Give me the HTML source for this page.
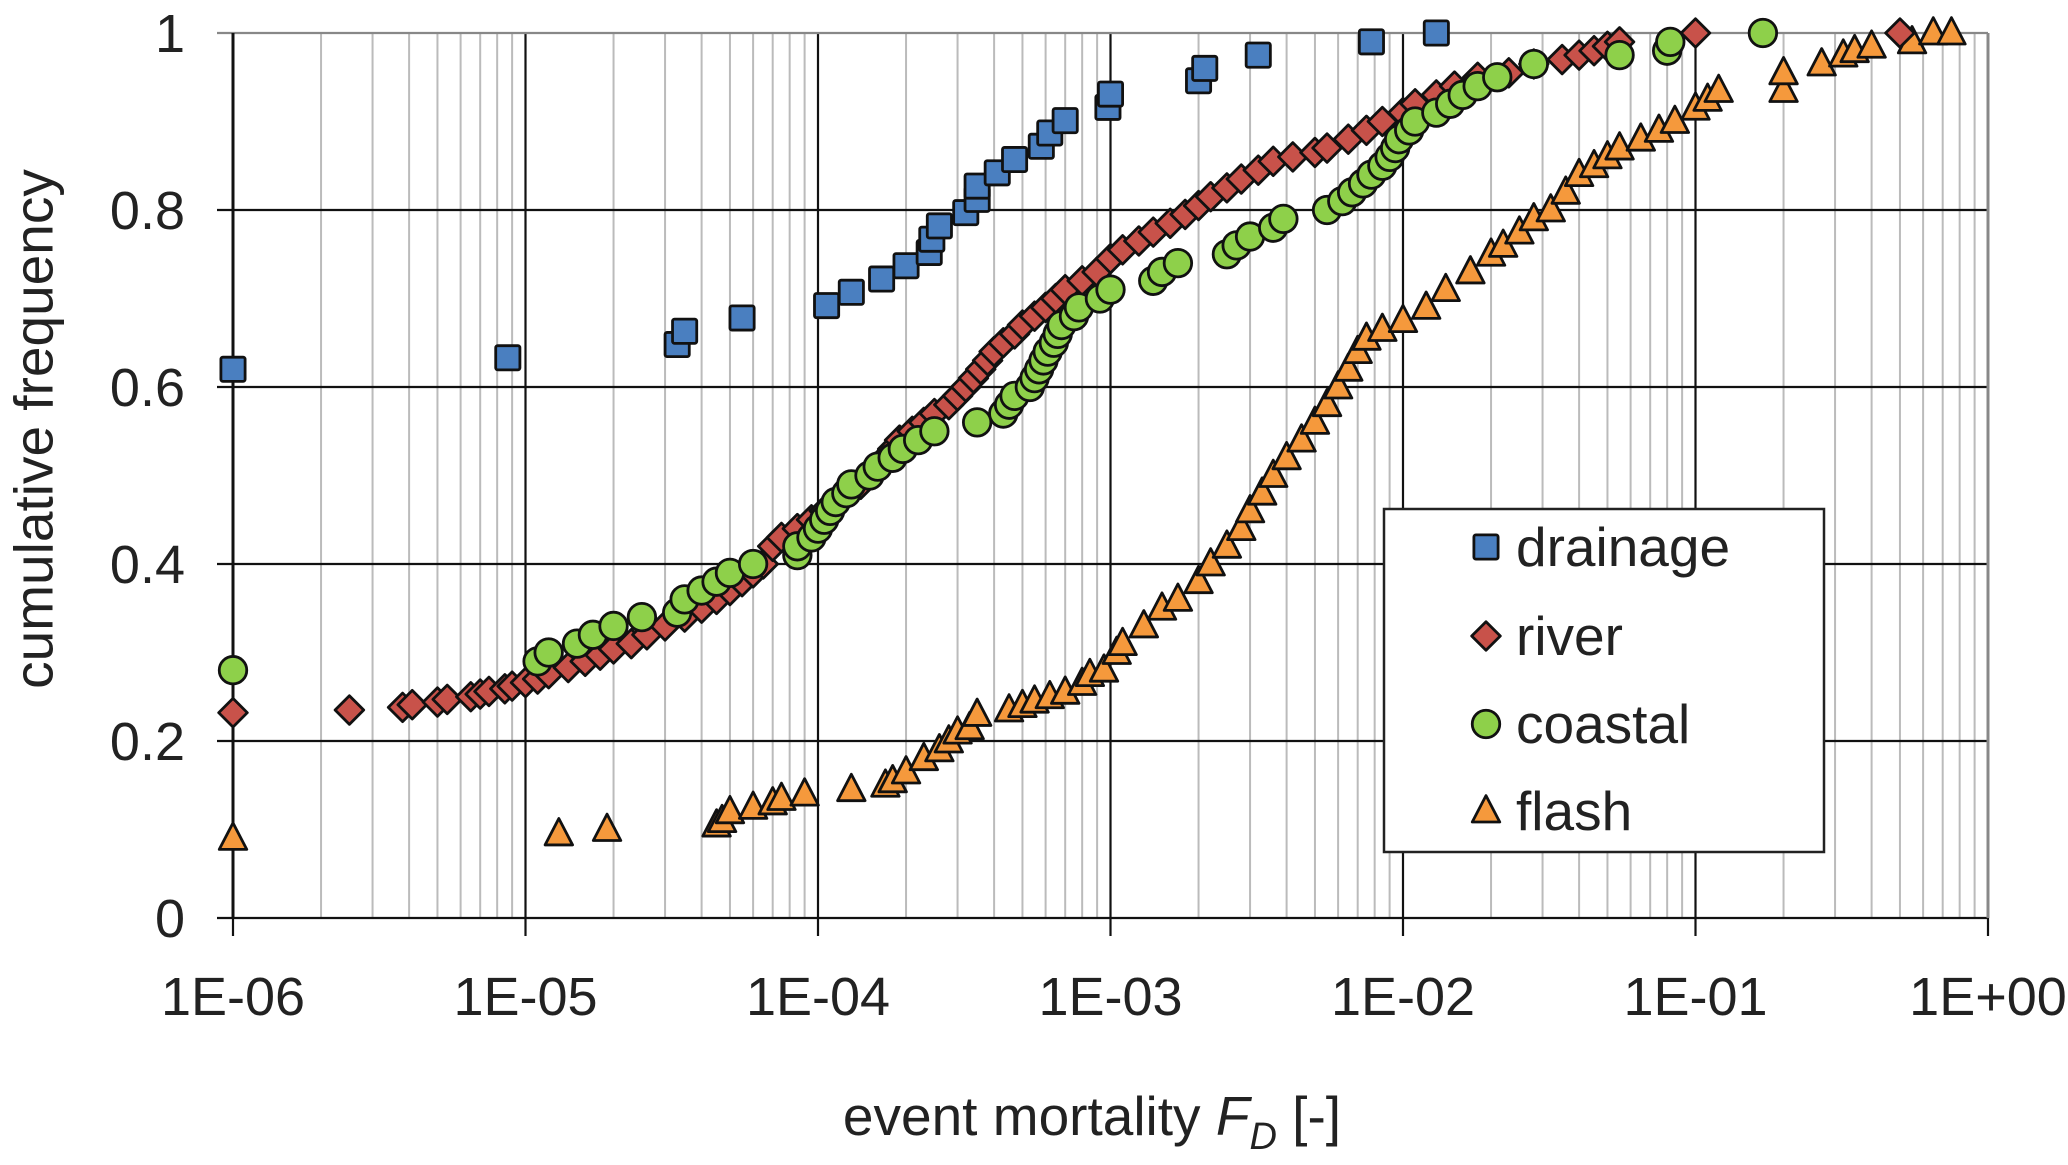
<!DOCTYPE html>
<html><head><meta charset="utf-8"><style>
body{margin:0;background:#fff;}
svg{display:block;font-family:"Liberation Sans",Arial,sans-serif;}
</style></head><body>
<svg id="chart" width="2068" height="1165" viewBox="0 0 2068 1165">
<g id="grid"></g>
<g id="axes"></g>
<g id="marks"></g>
<text x="38" y="429" transform="rotate(-90 38 429)" text-anchor="middle" dominant-baseline="middle" font-size="55" fill="#222">cumulative frequency</text>
<text x="1092" y="1135" text-anchor="middle" font-size="55" fill="#222">event mortality <tspan font-style="italic">F</tspan><tspan font-style="italic" font-size="38" dy="14">D</tspan><tspan dy="-14"> [-]</tspan></text>
<g>
<rect x="1384" y="509" width="440" height="343" fill="#fff" stroke="#222" stroke-width="2.5"/>
<g id="legend-items"></g>
</g>
</svg>
<script>
const xTickLabels=["1E-06","1E-05","1E-04","1E-03","1E-02","1E-01","1E+00"];
const yTickLabels=["0","0.2","0.4","0.6","0.8","1"];
const yTicks=[0,0.2,0.4,0.6,0.8,1];
const seriesNames=["drainage","river","coastal","flash"];
const drainageX=[1e-6,8.7e-6,3.3e-5,3.5e-5,5.5e-5,1.07e-4,1.3e-4,1.65e-4,2.0e-4,2.4e-4,2.45e-4,2.6e-4,3.2e-4,3.5e-4,3.5e-4,4.1e-4,4.7e-4,5.8e-4,6.2e-4,7e-4,9.8e-4,1.0e-3,2.0e-3,2.1e-3,3.2e-3,7.8e-3,1.3e-2];
const drainageY=[0.62,0.633,0.648,0.663,0.678,0.692,0.707,0.722,0.737,0.752,0.767,0.782,0.797,0.812,0.827,0.842,0.857,0.872,0.887,0.901,0.916,0.931,0.946,0.96,0.975,0.99,1.0];
const riverX=[1e-6,2.5e-6,3.8e-6,4.1e-6,5e-6,5.4e-6,6.5e-6,7e-6,7.5e-6,8.5e-6,9e-6,1e-5,1.1e-5,1.2e-5,1.4e-5,1.6e-5,1.8e-5,2e-5,2.3e-5,2.6e-5,3e-5,3.5e-5,4e-5,4.5e-5,5e-5,5.5e-5,6e-5,6.5e-5,7e-5,7.5e-5,8.5e-5,9.5e-5,1.05e-4,1.15e-4,1.25e-4,1.4e-4,1.5e-4,1.6e-4,1.7e-4,1.8e-4,1.9e-4,2.1e-4,2.3e-4,2.5e-4,2.8e-4,3e-4,3.2e-4,3.4e-4,3.6e-4,3.8e-4,4e-4,4.3e-4,4.7e-4,5e-4,5.5e-4,6e-4,6.5e-4,7e-4,8e-4,9e-4,1e-3,1.1e-3,1.25e-3,1.4e-3,1.6e-3,1.8e-3,2e-3,2.2e-3,2.5e-3,2.8e-3,3.2e-3,3.6e-3,4.2e-3,5e-3,5.5e-3,6.5e-3,7.5e-3,8.5e-3,1e-2,1.1e-2,1.3e-2,1.5e-2,1.8e-2,2.3e-2,2.8e-2,3.5e-2,4e-2,4.5e-2,5e-2,5.5e-2,1e-1,5e-1];
const riverY=[0.232,0.235,0.238,0.241,0.244,0.247,0.25,0.253,0.256,0.259,0.262,0.266,0.27,0.276,0.283,0.29,0.297,0.304,0.31,0.32,0.33,0.34,0.35,0.36,0.37,0.38,0.39,0.40,0.42,0.43,0.44,0.45,0.46,0.47,0.48,0.49,0.50,0.51,0.52,0.53,0.54,0.55,0.56,0.57,0.58,0.59,0.60,0.61,0.62,0.63,0.64,0.65,0.66,0.67,0.68,0.69,0.70,0.71,0.72,0.73,0.745,0.755,0.765,0.775,0.785,0.795,0.805,0.815,0.825,0.835,0.845,0.855,0.86,0.865,0.87,0.88,0.89,0.90,0.91,0.92,0.93,0.94,0.95,0.955,0.965,0.97,0.975,0.98,0.985,0.99,1.0,1.0];
const coastalX=[1e-6,1.1e-5,1.2e-5,1.5e-5,1.7e-5,2e-5,2.5e-5,3.3e-5,3.5e-5,4e-5,4.5e-5,5e-5,6e-5,8.5e-5,8.5e-5,9.5e-5,1e-4,1.05e-4,1.1e-4,1.15e-4,1.25e-4,1.3e-4,1.5e-4,1.6e-4,1.8e-4,1.95e-4,2.2e-4,2.5e-4,3.5e-4,4.3e-4,4.5e-4,4.7e-4,5.3e-4,5.5e-4,5.7e-4,5.9e-4,6.1e-4,6.4e-4,6.6e-4,6.8e-4,7.5e-4,7.8e-4,9.2e-4,1e-3,1.4e-3,1.5e-3,1.7e-3,2.5e-3,2.7e-3,3e-3,3.6e-3,3.9e-3,5.5e-3,6.2e-3,6.7e-3,7.3e-3,7.8e-3,8.5e-3,9e-3,9.4e-3,9.7e-3,1.05e-2,1.1e-2,1.3e-2,1.45e-2,1.6e-2,1.8e-2,2.1e-2,2.8e-2,5.5e-2,8e-2,8.2e-2,1.7e-1];
const coastalY=[0.28,0.29,0.30,0.31,0.32,0.33,0.34,0.345,0.36,0.37,0.38,0.39,0.40,0.41,0.42,0.43,0.44,0.45,0.46,0.47,0.48,0.49,0.50,0.51,0.52,0.53,0.54,0.55,0.56,0.57,0.58,0.59,0.60,0.61,0.62,0.63,0.64,0.65,0.66,0.67,0.68,0.69,0.70,0.71,0.72,0.73,0.74,0.75,0.76,0.77,0.78,0.79,0.80,0.81,0.82,0.83,0.84,0.85,0.86,0.87,0.88,0.89,0.90,0.91,0.92,0.93,0.94,0.95,0.965,0.975,0.98,0.99,1.0];
const flashX=[1e-6,1.3e-5,1.9e-5,4.5e-5,4.7e-5,5e-5,6e-5,7e-5,7.5e-5,9e-5,1.3e-4,1.7e-4,1.8e-4,2e-4,2.3e-4,2.6e-4,2.8e-4,3e-4,3.3e-4,3.5e-4,4.5e-4,5e-4,5.5e-4,6.2e-4,7e-4,8e-4,8.5e-4,9.5e-4,1.05e-3,1.1e-3,1.3e-3,1.5e-3,1.7e-3,2e-3,2.2e-3,2.5e-3,2.8e-3,3e-3,3.3e-3,3.6e-3,4e-3,4.5e-3,5e-3,5.5e-3,6e-3,6.5e-3,7e-3,7.5e-3,8.5e-3,1e-2,1.2e-2,1.4e-2,1.7e-2,2e-2,2.2e-2,2.5e-2,2.8e-2,3.2e-2,3.6e-2,4e-2,4.5e-2,5e-2,5.5e-2,6.5e-2,7.5e-2,8.5e-2,1e-1,1.1e-1,1.2e-1,2e-1,2e-1,2.7e-1,3.2e-1,3.5e-1,4e-1,5.5e-1,6.5e-1,7.5e-1];
const flashY=[0.09,0.095,0.10,0.105,0.11,0.12,0.125,0.13,0.135,0.14,0.145,0.15,0.155,0.165,0.18,0.19,0.2,0.21,0.215,0.23,0.235,0.24,0.245,0.25,0.255,0.265,0.275,0.28,0.30,0.31,0.33,0.35,0.36,0.38,0.40,0.42,0.44,0.46,0.48,0.50,0.52,0.54,0.56,0.58,0.60,0.62,0.64,0.655,0.665,0.675,0.69,0.71,0.73,0.75,0.76,0.775,0.79,0.80,0.82,0.84,0.85,0.86,0.87,0.88,0.89,0.90,0.915,0.925,0.935,0.935,0.955,0.965,0.975,0.98,0.985,0.99,1.0,1.0];

const NS="http://www.w3.org/2000/svg";
const X0=233,X1=1988,Y0=918,Y1=33;
function xs(v){return X0+(Math.log10(v)+6)/6*(X1-X0);}
function ys(v){return Y0-v*(Y0-Y1);}
function mk(tag,attrs,parent){const e=document.createElementNS(NS,tag);for(const k in attrs)e.setAttribute(k,attrs[k]);parent.appendChild(e);return e;}
const grid=document.getElementById('grid'),axes=document.getElementById('axes'),marks=document.getElementById('marks');
for(let d=-6;d<0;d++){for(let m=2;m<=9;m++){const x=xs(m*Math.pow(10,d));
const l=mk('line',{x1:x,x2:x,y1:Y1,y2:Y0,stroke:'#bbb','stroke-width':2},grid);

}}
xTickLabels.forEach((t,i)=>{const x=xs(Math.pow(10,i-6));
const l=mk('line',{x1:x,x2:x,y1:Y1,y2:Y0+18,stroke:'#111','stroke-width':2.2},grid);


const tx=mk('text',{x:x,y:1015,'text-anchor':'middle','font-size':54,fill:'#222'},axes);tx.textContent=t;

});
yTicks.forEach((v,i)=>{const y=ys(v);
const l=mk('line',{x1:X0-16,x2:X1,y1:y,y2:y,stroke:i==5?'#888':'#111','stroke-width':2.2},grid);


const tx=mk('text',{x:185,y:y+19,'text-anchor':'end','font-size':54,fill:'#222'},axes);tx.textContent=yTickLabels[i];

});
const ax=mk('line',{x1:X0,x2:X0,y1:Y1,y2:Y0,stroke:'#111','stroke-width':3},axes);

const ax2=mk('line',{x1:X1,x2:X1,y1:Y1,y2:Y0,stroke:'#888','stroke-width':3},axes);

const styles={drainage:'#4a7fc0',river:'#c8524a',coastal:'#8ed04a',flash:'#f5993c'};
function marker(type,cx,cy,parent,s){s=s||1.1;let e;
if(type==='drainage')e=mk('rect',{x:cx-11*s,y:cy-11*s,width:22*s,height:22*s,rx:2},parent);
else if(type==='river')e=mk('polygon',{points:`${cx},${cy-13*s} ${cx+13*s},${cy} ${cx},${cy+13*s} ${cx-13*s},${cy}`},parent);
else if(type==='coastal')e=mk('circle',{cx:cx,cy:cy,r:12.5*s},parent);
else e=mk('polygon',{points:`${cx},${cy-14*s} ${cx+12.5*s},${cy+10*s} ${cx-12.5*s},${cy+10*s}`},parent);
e.setAttribute('fill',styles[type]);e.setAttribute('stroke','#111');e.setAttribute('stroke-width',2.8);e.setAttribute('stroke-linejoin','round');return e;}
const data={drainage:[drainageX,drainageY],flash:[flashX,flashY],river:[riverX,riverY],coastal:[coastalX,coastalY]};
['flash','river','coastal','drainage'].forEach(n=>{const [X,Y]=data[n];
X.forEach((v,i)=>{const m=marker(n,xs(v),ys(Y[i]),marks);

});});
const li=document.getElementById('legend-items');
seriesNames.forEach((n,i)=>{const y=[547,636,724,811][i];
const m=marker(n,1486,y,li);


const t=mk('text',{x:1516,y:y+19,'font-size':55,fill:'#222'},li);t.textContent=n;

});
</script>
</body></html>
